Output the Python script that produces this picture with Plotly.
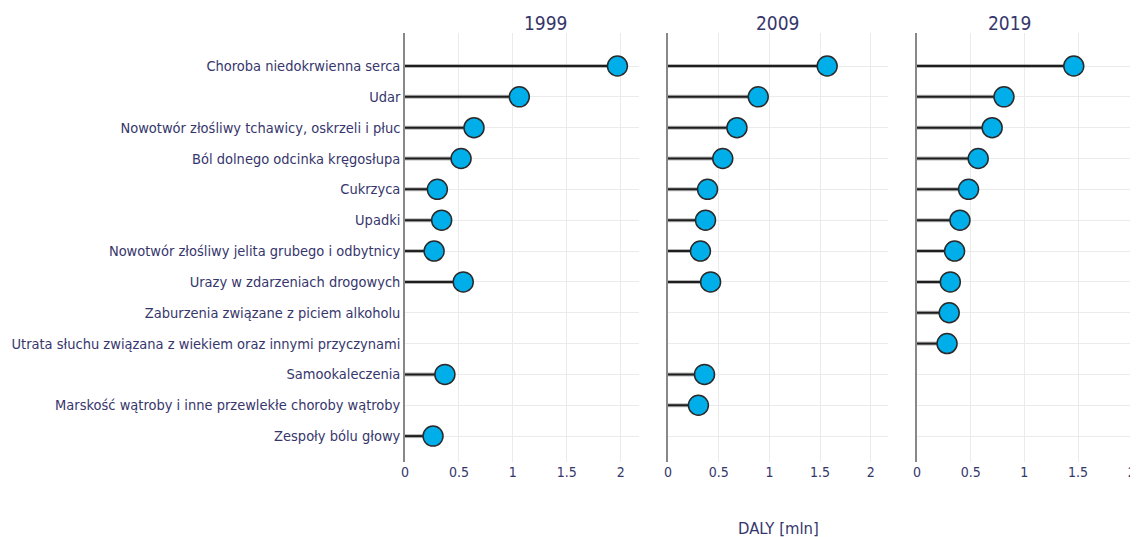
import plotly.graph_objects as go
from plotly.subplots import make_subplots

categories = [
    "Choroba niedokrwienna serca",
    "Udar",
    "Nowotwór złośliwy tchawicy, oskrzeli i płuc",
    "Ból dolnego odcinka kręgosłupa",
    "Cukrzyca",
    "Upadki",
    "Nowotwór złośliwy jelita grubego i odbytnicy",
    "Urazy w zdarzeniach drogowych",
    "Zaburzenia związane z piciem alkoholu",
    "Utrata słuchu związana z wiekiem oraz innymi przyczynami",
    "Samookaleczenia",
    "Marskość wątroby i inne przewlekłe choroby wątroby",
    "Zespoły bólu głowy",
]
years = ["1999", "2009", "2019"]
vals_1999 = [1.97, 1.06, 0.64, 0.52, 0.30, 0.34, 0.27, 0.54, None, None, 0.37, None, 0.26]
vals_2009 = [1.57, 0.89, 0.68, 0.54, 0.39, 0.37, 0.32, 0.42, None, None, 0.36, 0.30, None]
vals_2019 = [1.46, 0.81, 0.70, 0.57, 0.48, 0.40, 0.35, 0.31, 0.30, 0.28, None, None, None]
tick_vals = [0, 0.5, 1, 1.5, 2]
tick_text = ["0", "0.5", "1", "1.5", "2"]
x_title = "DALY [mln]"

series = [vals_1999, vals_2009, vals_2019]

FONT = "DejaVu Sans Condensed, DejaVu Sans, sans-serif"
TXT = "#36366c"

# page body adds an 8px offset; the right panel runs past the window edge
W, H = 1142, 529
ml, mr, mt, mb = 397, 0, 25, 75
pw = W - ml - mr
# pixel extents of the panels (figure coordinates)
px = [(397, 631), (660, 880), (909, 1142)]
ranges = [[0, 2.17], [0, 2.17], [0, 2.17]]

fig = make_subplots(rows=1, cols=3, shared_yaxes=True)

for i, vals in enumerate(series):
    sx, sy = [], []
    mx, my = [], []
    for c, v in zip(categories, vals):
        if v is None:
            continue
        sx += [0, v, None]
        sy += [c, c, None]
        mx.append(v)
        my.append(c)
    fig.add_trace(go.Scatter(x=sx, y=sy, mode="lines",
                             line=dict(color="rgba(110,110,110,0.5)", width=4),
                             hoverinfo="skip", showlegend=False), row=1, col=i + 1)
    fig.add_trace(go.Scatter(x=sx, y=sy, mode="lines",
                             line=dict(color="#1e1e1e", width=2),
                             hoverinfo="skip", showlegend=False), row=1, col=i + 1)
    fig.add_trace(go.Scatter(x=mx, y=my, mode="markers",
                             marker=dict(size=20, color="#00AEEA",
                                         line=dict(color="#2a2a2a", width=1.5)),
                             showlegend=False), row=1, col=i + 1)

for i in range(3):
    a, b = px[i]
    dom = [(a - ml) / pw, (b - ml) / pw]
    fig.update_xaxes(domain=dom, range=ranges[i], tickvals=tick_vals, ticktext=tick_text,
                     showgrid=True, gridcolor="#ebebeb", gridwidth=1,
                     zeroline=False, showline=False, ticks="",
                     tickfont=dict(family=FONT, size=14, color=TXT),
                     row=1, col=i + 1)
    fig.add_annotation(text=years[i], xref="paper", yref="paper",
                       x=(dom[0] + dom[1]) / 2,
                       y=1, yanchor="bottom", yshift=-3, showarrow=False,
                       font=dict(family=FONT, size=19, color=TXT))

fig.update_yaxes(categoryorder="array", categoryarray=categories,
                 range=[12.84, -1.07], showgrid=True, gridcolor="#ebebeb",
                 showline=True, linecolor="#888888", linewidth=1.5, ticks="",
                 tickfont=dict(family=FONT, size=14.5, color=TXT))

mid = px[1]
fig.add_annotation(text=x_title, xref="paper", yref="paper",
                   x=((mid[0] + mid[1]) / 2 - ml) / pw, y=0, yanchor="top", yshift=-55,
                   showarrow=False,
                   font=dict(family=FONT, size=16.5, color=TXT))

fig.update_layout(width=W, height=H, margin=dict(l=ml, r=mr, t=mt, b=mb),
                  plot_bgcolor="white", paper_bgcolor="white",
                  font=dict(family=FONT, color=TXT))

fig.write_html("out.html",
               post_script="document.documentElement.style.overflow='hidden';"
                           "document.body.style.overflow='hidden';")
